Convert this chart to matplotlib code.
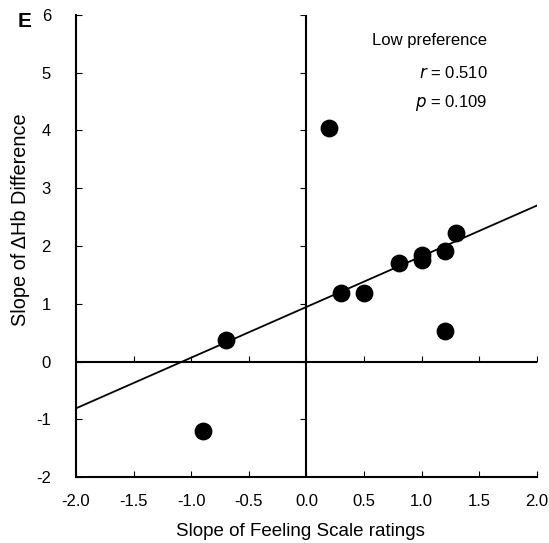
import numpy as np
import matplotlib
matplotlib.use("Agg")
import matplotlib.pyplot as plt

plt.rcParams["font.family"] = ["Liberation Sans", "DejaVu Sans"]
plt.rcParams["axes.unicode_minus"] = False

# Slope of Feeling Scale ratings vs slope of dHb difference (low preference)
x_vals = [-0.90, -0.70, 0.20, 0.30, 0.50, 0.80, 1.00, 1.00, 1.20, 1.30, 1.20]
y_vals = [-1.21, 0.38, 4.05, 1.18, 1.19, 1.71, 1.85, 1.75, 1.92, 2.23, 0.52]
x_ticks = [-2.0, -1.5, -1.0, -0.5, 0.0, 0.5, 1.0, 1.5, 2.0]
y_ticks = [-2, -1, 0, 1, 2, 3, 4, 5, 6]
stats = {"group": "Low preference", "r": "0.510", "p": "0.109"}

fig = plt.figure(figsize=(5.49, 5.43), dpi=100)
ax = fig.add_axes([0.1384, 0.1215, 0.8396, 0.851])

x = np.array(x_vals)
y = np.array(y_vals)
slope, icpt = np.polyfit(x, y, 1)
xl = np.array([x_ticks[0], x_ticks[-1]])
ax.plot(xl, slope * xl + icpt, color="black", lw=1.3, zorder=3)

ax.scatter(x, y, s=140, color="black", zorder=4)

# quadrant lines with small tick marks
ax.axhline(0, color="black", lw=1.5, zorder=2)
ax.axvline(0, color="black", lw=1.5, zorder=2)
ax.plot(x_ticks, np.zeros(len(x_ticks)), ls="none", marker=2, ms=4,
        color="black", mew=0.8)
ax.plot(np.zeros(len(y_ticks)), y_ticks, ls="none", marker=0, ms=4,
        color="black", mew=0.8)

ax.set_xlim(x_ticks[0], x_ticks[-1])
ax.set_ylim(y_ticks[0], y_ticks[-1])
ax.set_xticks(x_ticks)
ax.set_xticklabels([f"{v:.1f}" for v in x_ticks])
ax.set_yticks(y_ticks)
ax.tick_params(direction="in", length=4, width=0.8, labelsize=12)
ax.tick_params(axis="x", pad=12)
ax.tick_params(axis="y", pad=18)
for s in ["top", "right"]:
    ax.spines[s].set_visible(False)
for s in ["left", "bottom"]:
    ax.spines[s].set_linewidth(1.5)

ax.set_xlabel("Slope of Feeling Scale ratings", fontsize=13.5, labelpad=10)
ax.set_ylabel("Slope of \u0394Hb Difference", fontsize=14.3)
ax.xaxis.label.set_x(0.486)
ax.yaxis.set_label_coords(-0.100, 0.556)

ax.text(0.57, 5.56, stats["group"], fontsize=12, ha="left", va="center")
ax.text(1.57, 5.0, f"$r$ = {stats['r']}", fontsize=12, ha="right", va="center")
ax.text(1.57, 4.47, f"$p$ = {stats['p']}", fontsize=12, ha="right", va="center")
fig.text(0.0455, 0.961, "E", fontsize=15, fontweight="bold", ha="center", va="center")

fig.savefig("out.png", dpi=100)
